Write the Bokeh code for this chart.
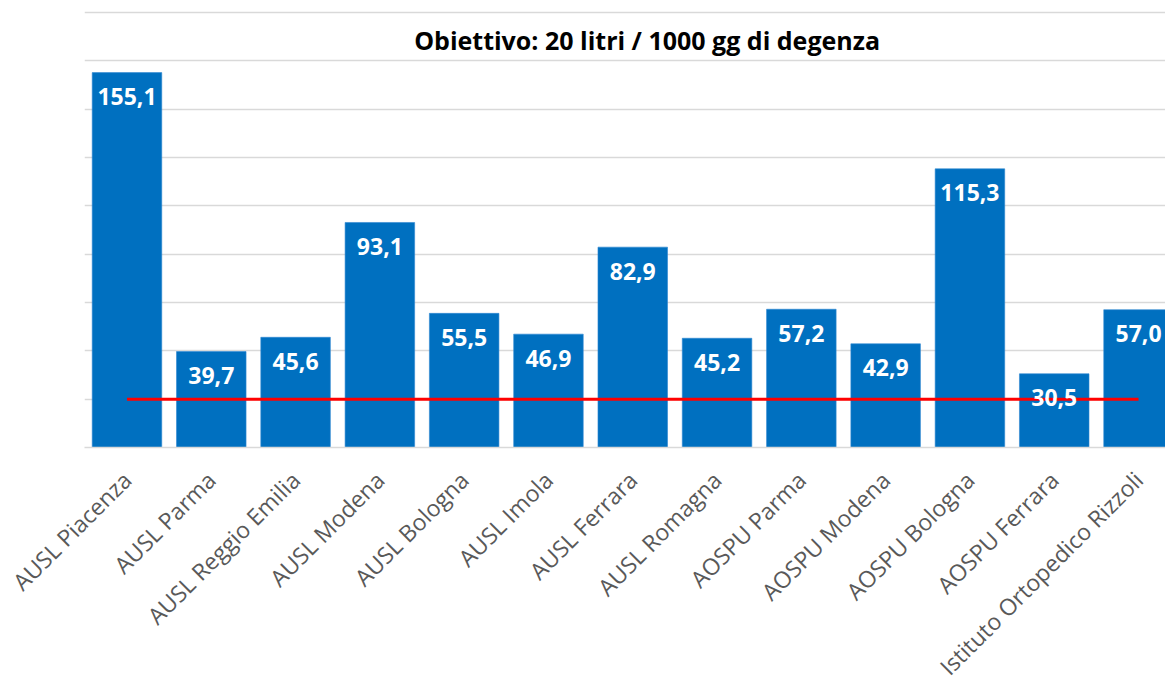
from bokeh.plotting import figure
from bokeh.models import ColumnDataSource, FixedTicker, Range1d
from bokeh.core.properties import value
from bokeh.embed import file_html
from bokeh.resources import INLINE

categories = ["AUSL Piacenza", "AUSL Parma", "AUSL Reggio Emilia", "AUSL Modena",
              "AUSL Bologna", "AUSL Imola", "AUSL Ferrara", "AUSL Romagna",
              "AOSPU Parma", "AOSPU Modena", "AOSPU Bologna", "AOSPU Ferrara",
              "Istituto Ortopedico Rizzoli"]
values = [155.1, 39.7, 45.6, 93.1, 55.5, 46.9, 82.9, 45.2, 57.2, 42.9, 115.3, 30.5, 57.0]
target = 20
title_text = "Obiettivo: 20 litri / 1000 gg di degenza"
y_ticks = [0, 20, 40, 60, 80, 100, 120, 140, 160, 180]

xs = list(range(len(categories)))
labels = [f"{v:.1f}".replace(".", ",") for v in values]
src = ColumnDataSource(dict(x=xs, v=values, lab=labels, t=[target] * len(xs)))

p = figure(frame_width=1081, frame_height=437, output_backend="svg", toolbar_location=None,
           x_range=Range1d(-0.504, 12.32), y_range=Range1d(0, 180.8),
           min_border_left=84, min_border_right=0, min_border_top=10,
           min_border_bottom=0)
p.outline_line_color = None
p.background_fill_color = "white"
p.border_fill_color = "white"

p.vbar(x="x", top="v", width=0.825, bottom=0, source=src,
       fill_color="#0070C0", line_color="#2E86D1", line_width=0.6)
p.line(x="x", y="t", source=src, line_color="#FF0000", line_width=3)
p.text(x="x", y="v", text="lab", source=src, text_color="white",
       text_font=value("Open Sans"), text_font_style="bold", text_font_size="23px",
       text_align="center", text_baseline="middle", y_offset=24)

p.text(x=[6.17], y=[168.4], text=[title_text], text_color="black",
       text_font=value("Open Sans"), text_font_style="bold", text_font_size="25px",
       text_align="center", text_baseline="middle")

p.xgrid.grid_line_color = None
p.ygrid.grid_line_color = "#D9D9D9"
p.ygrid.grid_line_width = 1.5
p.ygrid.ticker = FixedTicker(ticks=y_ticks)
p.yaxis.visible = False
p.yaxis.ticker = FixedTicker(ticks=y_ticks)

ax = p.xaxis[0]
ax.ticker = FixedTicker(ticks=xs)
ax.major_label_overrides = {i: c for i, c in zip(xs, categories)}
ax.major_label_orientation = 0.785398
ax.major_label_text_font = "Open Sans"
ax.major_label_text_font_size = "23px"
ax.major_label_text_color = "#595959"
ax.major_label_standoff = 22
ax.axis_line_color = "#D9D9D9"
ax.axis_line_width = 1.5
ax.major_tick_line_color = None
ax.minor_tick_line_color = None

open("out.html", "w").write(file_html(p, INLINE))
